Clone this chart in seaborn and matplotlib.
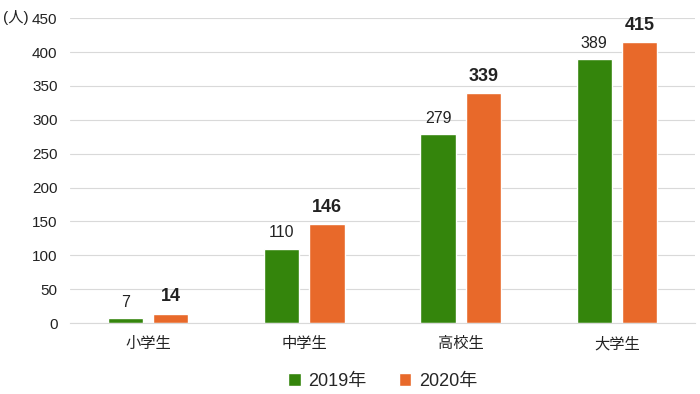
import pandas as pd
import matplotlib
matplotlib.use('Agg')
import matplotlib.pyplot as plt
import seaborn as sns

# data
categories = ['小学生', '中学生', '高校生', '大学生']
years = ['2019年', '2020年']
values_2019 = [7, 110, 279, 389]
values_2020 = [14, 146, 339, 415]
colors = ['#34850c', '#e8692a']

df = pd.DataFrame({
    'cat': categories * 2,
    'year': [years[0]] * 4 + [years[1]] * 4,
    'value': values_2019 + values_2020,
})

sns.set_style('white')
plt.rcParams['font.family'] = ['Liberation Sans', 'Noto Sans CJK JP']

fig = plt.figure(figsize=(7, 3.94), dpi=100)
ax = fig.add_axes([0.1, 0.18, 0.893, 0.774])

sns.barplot(data=df, x='cat', y='value', hue='year', palette=colors,
            saturation=1, width=0.58, gap=0.22, ax=ax, zorder=2)

ax.set_ylim(0, 450)
ax.set_yticks(range(0, 451, 50))
ax.grid(axis='y', color='#d9d9d9', linewidth=0.8, zorder=0)
for s in ['top', 'right', 'left']:
    ax.spines[s].set_visible(False)
ax.spines['bottom'].set_color('#d9d9d9')
ax.tick_params(axis='both', length=0, labelsize=11, colors='#222222')
ax.tick_params(axis='y', pad=9)
ax.tick_params(axis='x', pad=10)
ax.set_xlabel('')
ax.set_ylabel('')

# value labels: 2019 normal, 2020 bold
for c, w, sz in zip(ax.containers, ['normal', 'bold'], [11.5, 13]):
    ax.bar_label(c, padding=6, fontsize=sz, fontweight=w, color='#222222')

fig.text(0.004, 0.955, '(人)', fontsize=11, va='center', ha='left', color='#222222')

ax.legend(loc='center', bbox_to_anchor=(0.5, -0.19), ncol=2, frameon=False,
          fontsize=13, handlelength=0.7, handleheight=0.7, handletextpad=0.4,
          columnspacing=1.8, borderpad=0)

fig.savefig('out.png', dpi=100)
